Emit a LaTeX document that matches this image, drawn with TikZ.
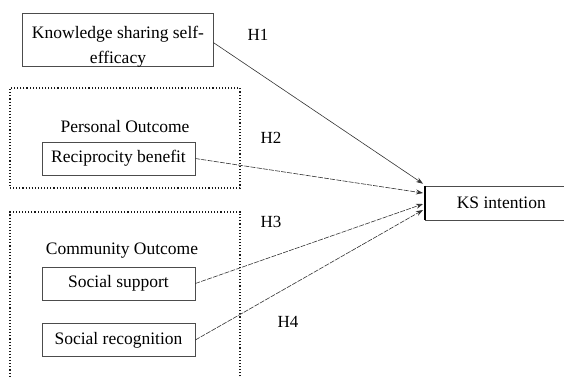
\documentclass[tikz,border=0pt]{standalone}
\usepackage{fontspec}
\setmainfont{Liberation Serif}
\usetikzlibrary{arrows.meta,calc}
\begin{document}
\begin{tikzpicture}[x=1pt,y=-1pt,
  box/.style={draw=black!70, line width=0.6pt, minimum width=153pt, minimum height=33pt, inner sep=0pt, font=\fontsize{17.5}{25}\selectfont},
  grp/.style={draw=black!90, line width=1.1pt, dotted, inner sep=0pt},
  lbl/.style={font=\fontsize{17.5}{21}\selectfont, inner sep=0pt},
  hyp/.style={font=\fontsize{17}{20}\selectfont, inner sep=0pt},
  link/.style={draw=black!80, line width=0.6pt, -{Stealth[length=7pt,width=5pt]}},
  dlink/.style={link, dash pattern=on 5pt off 1.2pt}]
\useasboundingbox (0,0) rectangle (564,376);
% left column
\node[box, minimum width=191pt, minimum height=53pt] (se) at (117.5,39.5) {};
\node[lbl, align=center, font=\fontsize{17.5}{25}\selectfont] (set) at (118,46.5) {Knowledge sharing self-\\efficacy};
\node[grp, minimum width=230pt, minimum height=100pt] (po) at (125,138) {};
\node[lbl, anchor=base] (pot) at (125,132) {Personal Outcome};
\node[box] (rb) at (118.5,158.5) {Reciprocity benefit};
\node[grp, minimum width=230pt, minimum height=170pt] (co) at (125,297) {};
\node[lbl, anchor=base] (cot) at (122,254) {Community Outcome};
\node[box] (ss) at (118.5,283.5) {Social support};
\node[box] (sr) at (118.5,340) {Social recognition};
% target (its right side runs off the page)
\node[box, minimum width=152pt, minimum height=34pt, anchor=west] (ki) at (425,203) {KS intention};
\draw[line width=1.1pt] (ki.north west) -- (ki.south west);
% arrow end points
\coordinate (t1) at ($(ki.north west)+(-2,-2)$);
\coordinate (t2) at ($(ki.west)+(-2,-10)$);
\coordinate (t3) at ($(ki.west)+(-2,1)$);
\coordinate (t4) at ($(ki.west)+(-2,7)$);
\coordinate (s1) at ($(se.east)+(0,3)$);
\draw[link] (s1) -- (t1);
\draw[dlink] (rb.east) -- (t2);
\draw[dlink] (ss.east) -- (t3);
\draw[dlink] (sr.east) -- (t4);
% hypothesis labels
\node[hyp] (h1) at (258,35) {H1};
\node[hyp] (h2) at (271,138) {H2};
\node[hyp] (h3) at (271,222) {H3};
\node[hyp] (h4) at (288,322) {H4};
\end{tikzpicture}
\end{document}
